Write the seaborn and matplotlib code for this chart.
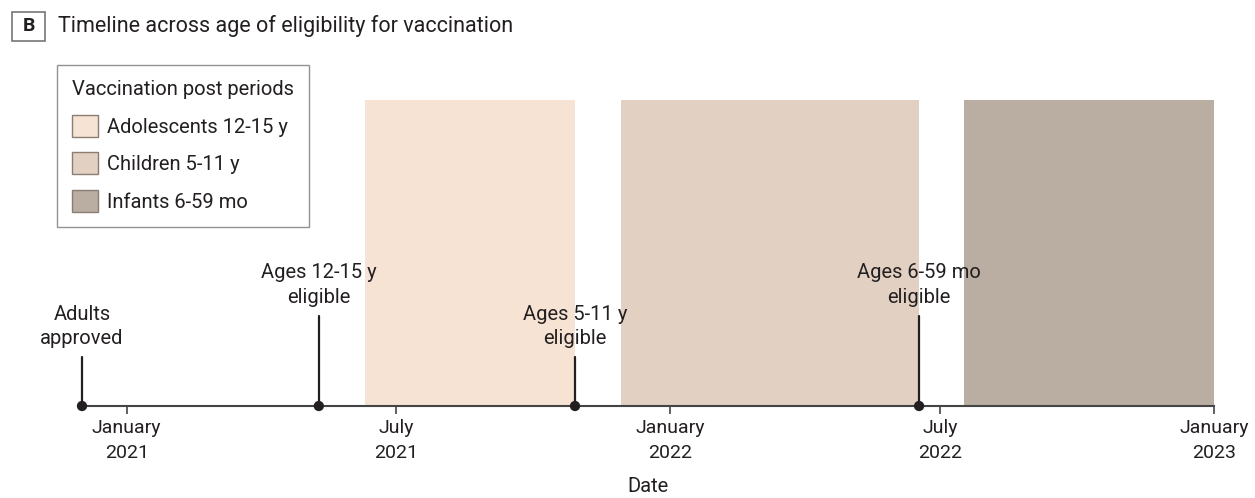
import pandas as pd
import numpy as np
import matplotlib
matplotlib.use("Agg")
import matplotlib.pyplot as plt
from matplotlib.patches import Patch, Rectangle
import seaborn as sns

sns.set_theme(style="white")
plt.rcParams['font.family'] = ['Roboto', 'DejaVu Sans']

# Eligibility events
event_dates = pd.to_datetime(['2020-12-02', '2021-05-10', '2021-10-29', '2022-06-17'])
event_labels = ['Adults\napproved', 'Ages 12-15 y\neligible', 'Ages 5-11 y\neligible', 'Ages 6-59 mo\neligible']
stem_heights = [0.16, 0.295, 0.16, 0.295]

# Post-vaccination periods
period_labels = ['Adolescents 12-15 y', 'Children 5-11 y', 'Infants 6-59 mo']
period_start = pd.to_datetime(['2021-06-10', '2021-11-29', '2022-07-17'])
period_end = pd.to_datetime(['2021-10-29', '2022-06-17', '2023-01-01'])
period_colors = ['#f6e3d4', '#e2d0c2', '#baaea2']

tick_dates = pd.to_datetime(['2021-01-01', '2021-07-01', '2022-01-01', '2022-07-01', '2023-01-01'])
tick_labels = ['January\n2021', 'July\n2021', 'January\n2022', 'July\n2022', 'January\n2023']

events = pd.DataFrame({'date': event_dates, 'y': 0.0})
ink = '#231f20'

fig = plt.figure(figsize=(12.55, 4.98), dpi=100)
ax = fig.add_axes([82 / 1255, (498 - 406) / 498, (1214 - 82) / 1255, 306 / 498])

for s, e, c in zip(period_start, period_end, period_colors):
    ax.axvspan(s, e, ymin=0, ymax=1, color=c, lw=0, zorder=0)

for d, h, lab in zip(event_dates, stem_heights, event_labels):
    ax.plot([d, d], [0, h], color=ink, lw=1.6, zorder=2, clip_on=False)
    ax.text(d, h + 0.03, lab, ha='center', va='bottom', fontsize=14.5,
            color=ink, linespacing=1.35)

sns.scatterplot(data=events, x='date', y='y', ax=ax, color=ink, s=55,
                edgecolor='none', zorder=3, clip_on=False, legend=False)

ax.set_xlim(pd.Timestamp('2020-12-02'), pd.Timestamp('2023-01-01'))
ax.set_ylim(0, 1)
for side in ['top', 'left', 'right']:
    ax.spines[side].set_visible(False)
ax.spines['bottom'].set_color('#444444')
ax.spines['bottom'].set_linewidth(1.5)
ax.set_yticks([])
ax.set_ylabel('')
ax.set_xticks(tick_dates)
ax.set_xticklabels(tick_labels, fontsize=14, color=ink, linespacing=1.5)
ax.tick_params(axis='x', direction='out', length=6, width=1.2, color='#444444',
               bottom=True, pad=3)
ax.set_xlabel('Date', fontsize=14.5, color=ink, labelpad=11)

handles = [Patch(facecolor=c, edgecolor='#8a7d72', lw=1) for c in period_colors]
leg = fig.legend(handles, period_labels, title='Vaccination post periods',
                 loc='upper left', bbox_to_anchor=(57 / 1255, 1 - 65 / 498),
                 borderaxespad=0, fontsize=14.5, title_fontsize=14.5,
                 frameon=True, fancybox=False, edgecolor='#777777',
                 handlelength=1.3, handleheight=1.3, labelspacing=0.78,
                 borderpad=0.75, handletextpad=0.45)
leg.get_frame().set_linewidth(1.0)
leg._legend_box.align = 'left'
for t in leg.get_texts():
    t.set_color(ink)
leg.get_title().set_color(ink)

# Panel header
fig.patches.append(Rectangle((12 / 1255, 1 - 41 / 498), 33 / 1255, 29 / 498,
                             transform=fig.transFigure, facecolor='white',
                             edgecolor='#777777', lw=1.2))
fig.text(28.5 / 1255, 1 - 26 / 498, 'B', ha='center', va='center', fontsize=14,
         fontweight='bold', color=ink)
fig.text(58 / 1255, 1 - 26 / 498, 'Timeline across age of eligibility for vaccination',
         ha='left', va='center', fontsize=15.5, color=ink)

fig.savefig('out.png', dpi=100)
